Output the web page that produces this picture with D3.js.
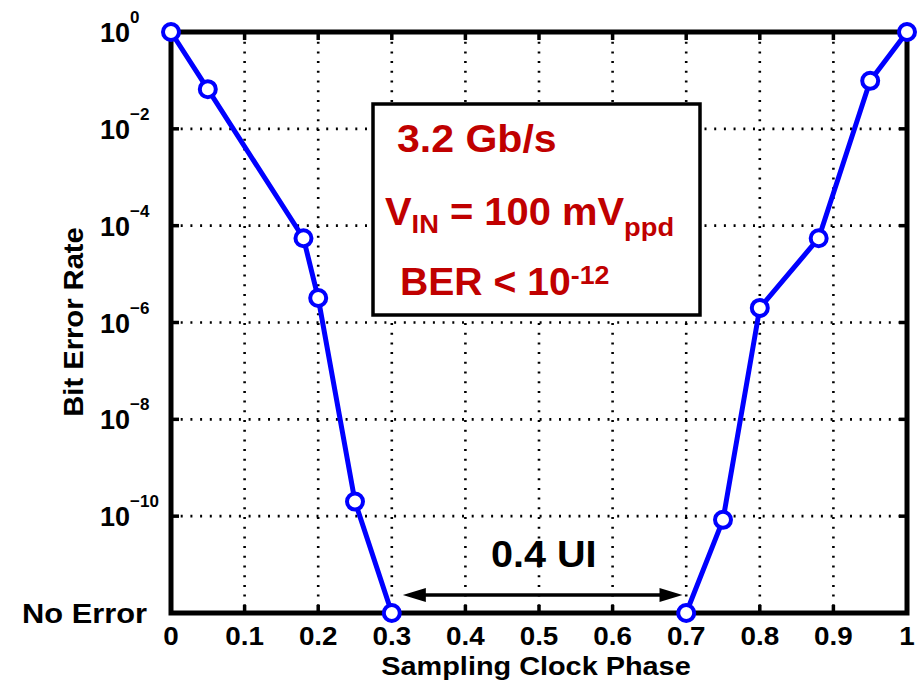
<!DOCTYPE html>
<html>
<head>
<meta charset="utf-8">
<script src="https://cdn.jsdelivr.net/npm/d3@7"></script>
<style>
  html, body { margin: 0; padding: 0; background: #fff; }
  svg { display: block; }
  text { font-family: "Liberation Sans", Arial, Helvetica, sans-serif; font-weight: bold; }
</style>
</head>
<body>
<svg id="chart" width="917" height="689"></svg>
<script>
// Sampling clock phase (UI) of each measurement
const phase = [0, 0.05, 0.18, 0.2, 0.25, 0.3, 0.7, 0.75, 0.8, 0.88, 0.95, 1];
// Measured bit error rate; null = no error observed (drawn on the floor)
const ber = [1, 6.6e-2, 5.5e-5, 3.2e-6, 2.0e-10, null, null, 8.4e-11, 2.0e-6, 5.5e-5, 9.8e-2, 1];
// Axis ticks
const xTicks = [0, 0.1, 0.2, 0.3, 0.4, 0.5, 0.6, 0.7, 0.8, 0.9, 1];
const xTickLabels = ["0", "0.1", "0.2", "0.3", "0.4", "0.5", "0.6", "0.7", "0.8", "0.9", "1"];
const yExponents = [0, -2, -4, -6, -8, -10];
const floorLabel = "No Error";
const floorValue = 1e-12;
// Eye opening marked by the double arrow
const eyeSpan = [0.315, 0.695];
const eyeLabel = "0.4 UI";

const svg = d3.select("#chart");
const x = d3.scaleLinear().domain([0, 1]).range([171, 907]);
const y = d3.scaleLog().domain([floorValue, 1]).range([613, 32]);
const X0 = x(0), X1 = x(1), Y0 = y(floorValue), Y1 = y(1);

const blue = "#0000ff";
const red = "#c00000";

// Dotted grid
const gridDash = "2,7.7";
const gridG = svg.append("g");
gridG.selectAll("line.vg").data(xTicks.slice(1, -1)).join("line")
  .attr("x1", d => x(d)).attr("x2", d => x(d))
  .attr("y1", Y1).attr("y2", Y0)
  .attr("stroke", "#000").attr("stroke-width", 2.6).attr("stroke-dasharray", gridDash);
gridG.selectAll("line.hg").data(yExponents.slice(1)).join("line")
  .attr("x1", X0).attr("x2", X1)
  .attr("y1", d => y(Math.pow(10, d))).attr("y2", d => y(Math.pow(10, d)))
  .attr("stroke", "#000").attr("stroke-width", 2.6).attr("stroke-dasharray", gridDash);

// Inward ticks on all four sides
const tickG = svg.append("g").attr("stroke", "#000").attr("stroke-width", 3.5);
xTicks.slice(1, -1).forEach(t => {
  tickG.append("line").attr("x1", x(t)).attr("x2", x(t)).attr("y1", Y0).attr("y2", Y0 - 8);
  tickG.append("line").attr("x1", x(t)).attr("x2", x(t)).attr("y1", Y1).attr("y2", Y1 + 8);
});
yExponents.slice(1).forEach(e => {
  const yy = y(Math.pow(10, e));
  tickG.append("line").attr("x1", X0).attr("x2", X0 + 8).attr("y1", yy).attr("y2", yy);
  tickG.append("line").attr("x1", X1).attr("x2", X1 - 8).attr("y1", yy).attr("y2", yy);
});

// Annotation box
svg.append("rect")
  .attr("x", 373).attr("y", 104).attr("width", 327).attr("height", 211)
  .attr("fill", "#fff").attr("stroke", "#000").attr("stroke-width", 3.5);

// Plot frame
svg.append("rect")
  .attr("x", X0).attr("y", Y1).attr("width", X1 - X0).attr("height", Y0 - Y1)
  .attr("fill", "none").attr("stroke", "#000").attr("stroke-width", 5);

// X tick labels
svg.append("g").selectAll("text").data(xTicks).join("text")
  .attr("transform", d => `translate(${x(d)},645) scale(1.07,1)`)
  .attr("text-anchor", "middle").attr("font-size", 26).attr("fill", "#000")
  .text((d, i) => xTickLabels[i]);

// Y tick labels: 10^n
const yLab = svg.append("g").selectAll("text").data(yExponents).join("text")
  .attr("x", 100).attr("y", d => y(Math.pow(10, d)) + 10)
  .attr("font-size", 27).attr("fill", "#000");
yLab.append("tspan").text("10");
yLab.append("tspan").attr("font-size", 17).attr("dy", -19)
  .text(d => d === 0 ? "0" : "\u2212" + Math.abs(d));

svg.append("text")
  .attr("transform", `translate(147,${Y0 + 10}) scale(1.1,1)`)
  .attr("text-anchor", "end").attr("font-size", 28).attr("fill", "#000")
  .text(floorLabel);

// Axis titles
svg.append("text")
  .attr("transform", `translate(${(X0 + X1) / 2 - 3},675) scale(1.11,1)`)
  .attr("text-anchor", "middle").attr("font-size", 26).attr("fill", "#000")
  .text("Sampling Clock Phase");
svg.append("text")
  .attr("transform", "translate(83,322) rotate(-90) scale(1.08,1)")
  .attr("text-anchor", "middle").attr("font-size", 27).attr("fill", "#000")
  .text("Bit Error Rate");

// Box text
svg.append("text").attr("transform", "translate(397,152) scale(1.08,1)")
  .attr("font-size", 38).attr("fill", red).text("3.2 Gb/s");
const t2 = svg.append("text").attr("transform", "translate(385,225) scale(1.05,1)")
  .attr("font-size", 38).attr("fill", red);
t2.append("tspan").text("V");
t2.append("tspan").attr("font-size", 26).attr("dy", 8).text("IN");
t2.append("tspan").attr("dy", -8).text(" = 100 mV");
t2.append("tspan").attr("font-size", 26).attr("dy", 11).text("ppd");
const t3 = svg.append("text").attr("transform", "translate(400,295) scale(1.03,1)")
  .attr("font-size", 38).attr("fill", red);
t3.append("tspan").text("BER < 10");
t3.append("tspan").attr("font-size", 26).attr("dy", -11).text("-12");

// Eye-opening arrow
const arrowY = Y0 - 18;
const aL = x(eyeSpan[0]), aR = x(eyeSpan[1]);
svg.append("line").attr("x1", aL + 15).attr("x2", aR - 15)
  .attr("y1", arrowY).attr("y2", arrowY)
  .attr("stroke", "#000").attr("stroke-width", 3.5);
svg.append("path")
  .attr("d", `M${aL},${arrowY} l23,-7 l0,14 Z M${aR},${arrowY} l-23,-7 l0,14 Z`)
  .attr("fill", "#000");
svg.append("text")
  .attr("transform", `translate(${(aL + aR) / 2 + 1},567) scale(1.07,1)`)
  .attr("text-anchor", "middle").attr("font-size", 37).attr("fill", "#000")
  .text(eyeLabel);

// BER curve: the run of error-free points is not joined along the floor
const pts = phase.map((p, i) => ({ p, v: ber[i] === null ? floorValue : ber[i], none: ber[i] === null }));
const segments = [[pts[0]]];
for (let i = 1; i < pts.length; i++) {
  if (pts[i].none && pts[i - 1].none) segments.push([]);
  segments[segments.length - 1].push(pts[i]);
}
const line = d3.line().x(d => x(d.p)).y(d => y(d.v));
svg.append("g").selectAll("path").data(segments).join("path")
  .attr("d", line)
  .attr("fill", "none").attr("stroke", blue).attr("stroke-width", 5)
  .attr("stroke-linejoin", "round");
svg.append("g").selectAll("circle").data(pts).join("circle")
  .attr("cx", d => x(d.p)).attr("cy", d => y(d.v)).attr("r", 8)
  .attr("fill", "#fff").attr("stroke", blue).attr("stroke-width", 4);
</script>
</body>
</html>
